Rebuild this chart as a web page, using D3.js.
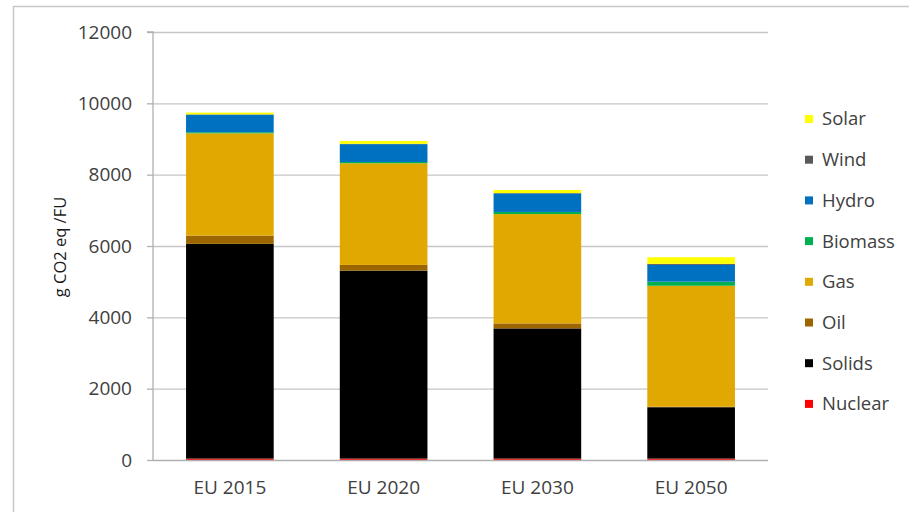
<!DOCTYPE html>
<html><head><meta charset="utf-8">
<script src="https://cdn.jsdelivr.net/npm/d3@7"></script>
<style>
html,body{margin:0;padding:0;background:#fff;}
svg{display:block;font-family:"Open Sans",Lato,sans-serif;}
</style></head>
<body><svg id="c" width="909" height="512"></svg>
<script>
const categories = ["EU 2015","EU 2020","EU 2030","EU 2050"];
const seriesNames = ["Nuclear","Solids","Oil","Gas","Biomass","Hydro","Wind","Solar"];
const Nuclear = [40,40,40,40];
const Solids  = [6020,5270,3650,1440];
const Oil     = [230,160,140,15];
const Gas     = [2870,2850,3065,3390];
const Biomass = [30,35,60,115];
const Hydro   = [490,500,515,470];
const Wind    = [10,10,15,30];
const Solar   = [50,80,85,185];
const yTicks  = [0,2000,4000,6000,8000,10000,12000];
const colors  = {Nuclear:"#ff0000",Solids:"#000000",Oil:"#9c6500",Gas:"#e0a800",Biomass:"#00b050",Hydro:"#0070c0",Wind:"#595959",Solar:"#ffff00"};
const seriesVals = {Nuclear,Solids,Oil,Gas,Biomass,Hydro,Wind,Solar};
const FONT = "'Open Sans',Lato,sans-serif";

const svg = d3.select("#c");
// outer frame
svg.append("rect").attr("x",13.5).attr("y",6.5).attr("width",920).attr("height",540)
  .attr("fill","none").attr("stroke","#c8c8c8").attr("stroke-width",1.5);

const pL=153, pR=768, pT=32, pB=460;
const x = d3.scaleBand().domain(categories).range([pL,pR]).paddingInner(0.43).paddingOuter(0.215);
const y = d3.scaleLinear().domain([0,12000]).range([pB,pT]);

// gridlines
svg.append("g").selectAll("line").data(yTicks.filter(t=>t>0)).join("line")
  .attr("x1",pL).attr("x2",pR).attr("y1",d=>y(d)+0.5).attr("y2",d=>y(d)+0.5)
  .attr("stroke","#c6c6c6").attr("stroke-width",1.3);

const rows = categories.map((c,i)=>{const r={cat:c}; seriesNames.forEach(s=>r[s]=seriesVals[s][i]); return r;});
const stacked = d3.stack().keys(seriesNames)(rows);
svg.append("g").selectAll("g").data(stacked).join("g").attr("fill",d=>colors[d.key])
  .selectAll("rect").data(d=>d).join("rect")
  .attr("x",d=>x(d.data.cat)).attr("width",x.bandwidth())
  .attr("y",d=>y(d[1])).attr("height",d=>Math.max(0,y(d[0])-y(d[1])));

// y axis
const ya = svg.append("g").attr("transform",`translate(${pL},0)`)
  .call(d3.axisLeft(y).tickValues(yTicks).tickSize(6).tickPadding(15).tickFormat(d3.format("d")));
ya.select(".domain").attr("stroke","#b0b0b0").attr("stroke-width",1.3).attr("d",`M-6,${pT}H0V${pB}`);
ya.selectAll(".tick line").attr("stroke","#b0b0b0").attr("stroke-width",1.3);
ya.selectAll("text").attr("font-size",19).attr("fill","#404040").attr("font-family",FONT);

// x axis
const xa = svg.append("g").attr("transform",`translate(0,${pB})`)
  .call(d3.axisBottom(x).tickSize(0).tickPadding(21));
xa.select(".domain").attr("stroke","#b0b0b0").attr("stroke-width",1.3).attr("d",`M${pL},0.5H${pR}`);
xa.selectAll("text").attr("font-size",19).attr("fill","#404040").attr("font-family",FONT);

// y title
svg.append("text").attr("transform",`translate(66,247) rotate(-90)`).attr("text-anchor","middle")
  .attr("font-size",16.5).attr("fill","#1a1a1a").attr("font-family",FONT).text("g CO2 eq /FU");

// legend
const legendOrder = seriesNames.slice().reverse();
const lg = svg.append("g").selectAll("g").data(legendOrder).join("g")
  .attr("transform",(d,i)=>`translate(805,${119+i*40.7})`);
lg.append("rect").attr("x",0).attr("y",-4).attr("width",8).attr("height",8).attr("fill",d=>colors[d]);
lg.append("text").attr("x",17).attr("y",0).attr("dy","0.35em").attr("font-size",18.5)
  .attr("fill","#404040").attr("font-family",FONT).text(d=>d);
</script></body></html>
